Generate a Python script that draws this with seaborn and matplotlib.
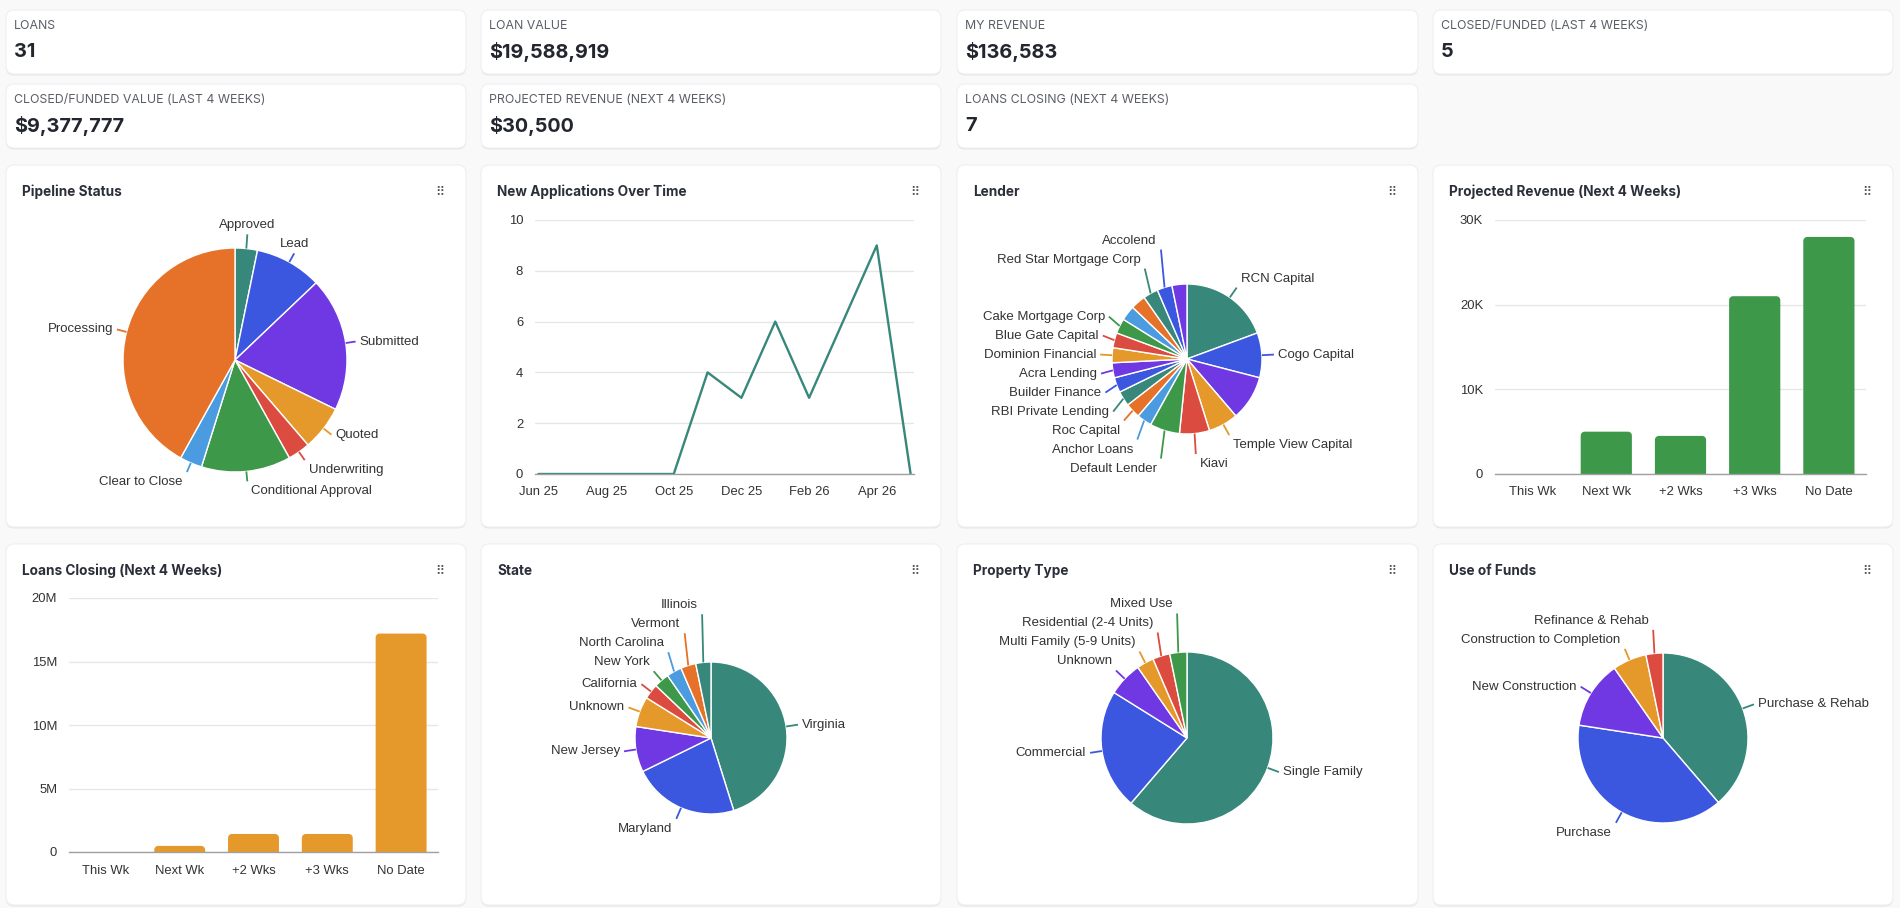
import numpy as np
import pandas as pd
import matplotlib
matplotlib.use("Agg")
import matplotlib.pyplot as plt
import seaborn as sns
from matplotlib.patches import FancyBboxPatch, Polygon
from matplotlib.ticker import FuncFormatter, FixedLocator

# ---------------- data ----------------
kpi_labels = ["LOANS", "LOAN VALUE", "MY REVENUE", "CLOSED/FUNDED (LAST 4 WEEKS)",
              "CLOSED/FUNDED VALUE (LAST 4 WEEKS)", "PROJECTED REVENUE (NEXT 4 WEEKS)",
              "LOANS CLOSING (NEXT 4 WEEKS)"]
kpi_values = ["31", "$19,588,919", "$136,583", "5", "$9,377,777", "$30,500", "7"]

pipeline_labels = ["Approved", "Lead", "Submitted", "Quoted", "Underwriting",
                   "Conditional Approval", "Clear to Close", "Processing"]
pipeline_counts = [1, 3, 6, 2, 1, 4, 1, 13]

app_months = ["Jun 25", "Jul 25", "Aug 25", "Sep 25", "Oct 25", "Nov 25",
              "Dec 25", "Jan 26", "Feb 26", "Mar 26", "Apr 26", "May 26"]
app_counts = [0, 0, 0, 0, 0, 4, 3, 6, 3, 6, 9, 0]

lender_labels = ["RCN Capital", "Cogo Capital", "", "Temple View Capital", "Kiavi",
                 "Default Lender", "Anchor Loans", "Roc Capital", "RBI Private Lending",
                 "Builder Finance", "Acra Lending", "Dominion Financial",
                 "Blue Gate Capital", "Cake Mortgage Corp", "", "",
                 "Red Star Mortgage Corp", "Accolend", ""]
lender_counts = [6, 3, 3, 2, 2, 2, 1, 1, 1, 1, 1, 1, 1, 1, 1, 1, 1, 1, 1]

week_labels = ["This Wk", "Next Wk", "+2 Wks", "+3 Wks", "No Date"]
revenue_values = [0, 5000, 4500, 21000, 28000]
closing_values = [0, 480000, 1420000, 1420000, 17200000]

state_labels = ["Virginia", "Maryland", "New Jersey", "Unknown", "California",
                "New York", "North Carolina", "Vermont", "Illinois"]
state_counts = [14, 7, 3, 2, 1, 1, 1, 1, 1]

property_labels = ["Single Family", "Commercial", "Unknown", "Multi Family (5-9 Units)",
                   "Residential (2-4 Units)", "Mixed Use"]
property_counts = [19, 7, 2, 1, 1, 1]

funds_labels = ["Purchase & Rehab", "Purchase", "New Construction",
                "Construction to Completion", "Refinance & Rehab"]
funds_counts = [12, 12, 4, 2, 1]

palette = ["#37877B", "#3B57E0", "#7038E3", "#E5992B", "#DC4B3F",
           "#3E984A", "#4A9BE0", "#E57228"]

# ---------------- setup ----------------
sns.set_theme(style="white")
plt.rcParams['font.family'] = ['Liberation Sans', 'DejaVu Sans']

W, H, DPI = 1900, 908, 100
fig = plt.figure(figsize=(W / DPI, H / DPI), dpi=DPI)
fig.patch.set_facecolor("#f9f9fa")

bg = fig.add_axes([0, 0, 1, 1], zorder=0)
bg.set_xlim(0, W)
bg.set_ylim(H, 0)
bg.axis("off")

TITLE_FONT = ['Inter', 'DejaVu Sans']
TXT = "#2b2f3a"
TICK = "#333333"


def px_axes(x0, y0, x1, y1):
    a = fig.add_axes([x0 / W, 1 - y1 / H, (x1 - x0) / W, (y1 - y0) / H], zorder=2)
    a.patch.set_alpha(0)
    return a


def card(x0, y0, x1, y1):
    sh = FancyBboxPatch((x0, y0 + 1.5), x1 - x0, y1 - y0,
                        boxstyle="round,pad=0,rounding_size=8",
                        fc="#e4e6e9", ec="none", zorder=1)
    bg.add_patch(sh)
    p = FancyBboxPatch((x0, y0), x1 - x0, y1 - y0,
                       boxstyle="round,pad=0,rounding_size=8",
                       fc="white", ec="#eeeff1", lw=0.8, zorder=2)
    bg.add_patch(p)


cols = [(6, 466), (481, 941), (957, 1418), (1433, 1893)]
kpi_rows = [(10, 74), (84, 148)]
chart_rows = [(165, 527), (544, 905)]

# KPI cards
for i, (lab, val) in enumerate(zip(kpi_labels, kpi_values)):
    r, c = divmod(i, 4)
    x0, x1 = cols[c]
    y0, y1 = kpi_rows[r]
    card(x0, y0, x1, y1)
    bg.text(x0 + 8, y0 + 16, lab, fontsize=8.9, color="#5a5e66", family=TITLE_FONT,
            va="center", ha="left", zorder=3)
    bg.text(x0 + 8, y0 + 42, val, fontsize=14.3, color="#23262f", family=TITLE_FONT,
            weight="bold", va="center", ha="left", zorder=3)


def chart_card(r, c, title):
    x0, x1 = cols[c]
    y0, y1 = chart_rows[r]
    card(x0, y0, x1, y1)
    bg.text(x0 + 16, y0 + 27, title, fontsize=9.8, color=TXT, family=TITLE_FONT,
            weight="bold", va="center", ha="left", zorder=3)
    bg.text(x1 - 26, y0 + 27, "\u283f", fontsize=9, color="#555555",
            family=['DejaVu Sans'], va="center", ha="center", zorder=3)
    return x0, y0, x1, y1


def style_axes(ax):
    for s in ["top", "right", "left"]:
        ax.spines[s].set_visible(False)
    ax.spines["bottom"].set_color("#a0a0a0")
    ax.spines["bottom"].set_linewidth(1.0)
    ax.yaxis.grid(True, color="#e6e6e6", linewidth=1.0)
    ax.xaxis.grid(False)
    ax.set_axisbelow(True)
    ax.tick_params(axis="both", length=0, labelsize=9.4, colors=TICK)
    ax.tick_params(axis="y", pad=8.5)
    ax.tick_params(axis="x", pad=9)
    ax.set_xlabel("")
    ax.set_ylabel("")


def round_bars(ax, color, wpx, hpx, rad=4):
    """Replace each seaborn bar with the same bar whose top corners are rounded."""
    xl, yl = ax.get_xlim(), ax.get_ylim()
    xpp = (xl[1] - xl[0]) / wpx
    ypp = (yl[1] - yl[0]) / hpx
    t = np.linspace(0, np.pi / 2, 12)
    for p in list(ax.patches):
        x, y, w, h = p.get_x(), p.get_y(), p.get_width(), p.get_height()
        p.remove()
        if h <= 0:
            continue
        rx = min(rad * xpp, w / 2)
        ry = min(rad * ypp, h)
        pts = [(x, y), (x + w, y)]
        cxr, cyt = x + w - rx, y + h - ry
        pts += [(cxr + rx * np.cos(a), cyt + ry * np.sin(a)) for a in t]
        cxl = x + rx
        pts += [(cxl + rx * np.cos(a), cyt + ry * np.sin(a)) for a in t + np.pi / 2]
        ax.add_patch(Polygon(pts, closed=True, fc=color, ec="none", lw=0,
                             zorder=2, snap=False))


def draw_pie(box, center, r, values, labels, gap=10, spacing=19, fs=9.5):
    x0, y0, x1, y1 = box
    cx, cy = center
    ax = px_axes(x0 + 2, y0 + 40, x1 - 2, y1 - 2)
    colors = [palette[i % len(palette)] for i in range(len(values))]
    ax.pie(values, colors=colors, startangle=90, counterclock=False, radius=r,
           center=(0, 0), frame=False,
           wedgeprops=dict(edgecolor="white", linewidth=1.0))
    ax.set_aspect("auto")
    ax.set_xlim(x0 + 2 - cx, x1 - 2 - cx)
    ax.set_ylim(cy - (y1 - 2), cy - (y0 + 40))
    ax.axis("off")

    total = float(sum(values))
    items = []
    cum = 0.0
    for i, (v, lab) in enumerate(zip(values, labels)):
        mid = (cum + v / 2.0) / total * 2 * np.pi
        cum += v
        s, c = np.sin(mid), np.cos(mid)
        tx, ty = (r + gap) * s, (r + gap) * c
        if c > 0.65:
            voff = 9.0
        elif c < -0.65:
            voff = -10.0
        else:
            voff = 0.0
        if s >= 0 and c > 0.85:
            ha = "center"
        elif s >= 0:
            ha = "left"
        else:
            ha = "right"
        items.append(dict(s=s, c=c, ex=r * s, ey=r * c, tx=tx, ly=ty + voff,
                          voff=voff, ha=ha, lab=lab, col=colors[i]))
    for right in (True, False):
        grp = [it for it in items if (it["s"] >= 0) == right]
        upper = sorted([it for it in grp if it["c"] > 0], key=lambda d: d["ly"])
        lower = sorted([it for it in grp if it["c"] <= 0], key=lambda d: -d["ly"])
        prev = None
        for it in upper:
            if prev is not None:
                it["ly"] = max(it["ly"], prev + spacing)
            prev = it["ly"]
        prev = upper[0]["ly"] if upper else None
        for it in lower:
            if prev is not None:
                it["ly"] = min(it["ly"], prev - spacing)
            prev = it["ly"]
    for it in items:
        if not it["lab"]:
            continue
        tipy = it["ly"] - it["voff"]
        ax.plot([it["ex"], it["tx"]], [it["ey"], tipy], color=it["col"], lw=1.3,
                solid_capstyle="butt", zorder=1)
        dx = 4 if it["ha"] == "left" else (-4 if it["ha"] == "right" else 0)
        ax.text(it["tx"] + dx, it["ly"], it["lab"], ha=it["ha"], va="center",
                fontsize=fs, color=TICK)
    return ax


# ---------------- Row 1 ----------------
b = chart_card(0, 0, "Pipeline Status")
draw_pie(b, (235, 360), 112, pipeline_counts, pipeline_labels, gap=10)

b = chart_card(0, 1, "New Applications Over Time")
ax = px_axes(535, 220, 914, 474)
df_app = pd.DataFrame({"idx": np.arange(len(app_months)), "count": app_counts})
sns.lineplot(data=df_app, x="idx", y="count", ax=ax, color=palette[0], linewidth=1.7)
ax.set_xlim(-0.1, len(app_months) - 1 + 0.1)
ax.set_ylim(0, 10)
ax.yaxis.set_major_locator(FixedLocator([0, 2, 4, 6, 8, 10]))
ax.xaxis.set_major_locator(FixedLocator(list(range(0, len(app_months), 2))))
ax.set_xticklabels(app_months[::2])
style_axes(ax)

b = chart_card(0, 2, "Lender")
draw_pie(b, (1187, 359), 75, lender_counts, lender_labels, gap=12)

b = chart_card(0, 3, "Projected Revenue (Next 4 Weeks)")
ax = px_axes(1495, 220, 1866, 474)
sns.barplot(x=week_labels, y=revenue_values, color=palette[5], saturation=1,
            width=0.69, ax=ax)
ax.set_ylim(0, 30000)
ax.yaxis.set_major_locator(FixedLocator([0, 10000, 20000, 30000]))
ax.yaxis.set_major_formatter(FuncFormatter(lambda v, p: "0" if v == 0 else f"{int(v/1000)}K"))
style_axes(ax)
round_bars(ax, palette[5], 1866 - 1495, 474 - 220)

# ---------------- Row 2 ----------------
b = chart_card(1, 0, "Loans Closing (Next 4 Weeks)")
ax = px_axes(69, 598, 438, 852)
sns.barplot(x=week_labels, y=closing_values, color=palette[3], saturation=1,
            width=0.69, ax=ax)
ax.set_ylim(0, 20000000)
ax.yaxis.set_major_locator(FixedLocator([0, 5e6, 10e6, 15e6, 20e6]))
ax.yaxis.set_major_formatter(FuncFormatter(lambda v, p: "0" if v == 0 else f"{int(v/1e6)}M"))
style_axes(ax)
round_bars(ax, palette[3], 438 - 69, 852 - 598)

b = chart_card(1, 1, "State")
draw_pie(b, (711, 738), 76, state_counts, state_labels, gap=12)

b = chart_card(1, 2, "Property Type")
draw_pie(b, (1187, 738), 86, property_counts, property_labels, gap=12)

b = chart_card(1, 3, "Use of Funds")
draw_pie(b, (1663, 738), 85, funds_counts, funds_labels, gap=12)

fig.savefig("out.png", dpi=DPI, facecolor=fig.get_facecolor())
